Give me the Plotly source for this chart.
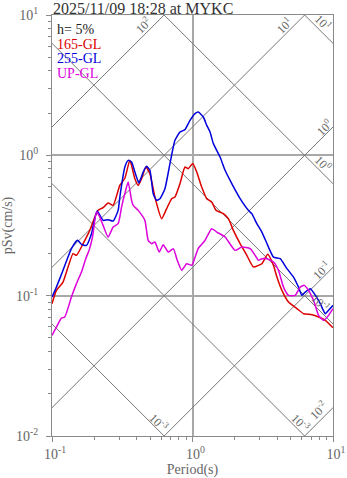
import numpy as np
import plotly.graph_objects as go

TITLE = "2025/11/09 18:28 at MYKC"
DAMPING = "h= 5%"

# Pseudo-velocity response spectra (h = 5 %), period in s, pSv in cm/s
period_165 = [0.10, 0.1075, 0.1198, 0.1412, 0.1493, 0.1664, 0.1857, 0.2017, 0.2129, 0.2311,
              0.2508, 0.2723, 0.304, 0.330, 0.3583, 0.3889, 0.4106, 0.434, 0.4658, 0.4975,
              0.5401, 0.6031, 0.6547, 0.7108, 0.7502, 0.8143, 0.8842, 0.9333, 1.003, 1.072,
              1.163, 1.263, 1.370, 1.472, 1.659, 1.800, 1.954, 2.182, 2.436, 2.715,
              2.948, 3.117, 3.43, 3.771, 3.988, 4.328, 4.824, 5.536, 6.170, 7.083,
              7.894, 8.811, 10.0]
psv_165 = [0.0877, 0.1091, 0.125, 0.1992, 0.1938, 0.2347, 0.292, 0.3633, 0.4055, 0.4239,
           0.4571, 0.4401, 0.611, 0.686, 0.921, 0.682, 0.611, 0.682, 0.825, 0.741,
           0.5045, 0.3538, 0.417, 0.491, 0.5045, 0.628, 0.825, 0.804, 0.873, 0.760,
           0.594, 0.491, 0.4647, 0.4055, 0.384, 0.3538, 0.292, 0.2347, 0.1938, 0.1599,
           0.1644, 0.169, 0.197, 0.1644, 0.1357, 0.1091, 0.090, 0.0808, 0.0744, 0.0732,
           0.0704, 0.0667, 0.0590]

period_255 = [0.10, 0.1075, 0.1198, 0.1375, 0.1518, 0.1621, 0.1759, 0.191, 0.2094, 0.2311,
              0.2508, 0.2723, 0.2957, 0.304, 0.330, 0.3484, 0.3684, 0.3889, 0.4154, 0.4456,
              0.4712, 0.4975, 0.5253, 0.5554, 0.5866, 0.6367, 0.6912, 0.7502, 0.8143, 0.8842,
              0.9598, 1.042, 1.100, 1.194, 1.263, 1.333, 1.408, 1.571, 1.706, 1.904,
              2.182, 2.500, 2.644, 2.871, 3.117, 3.473, 3.771, 4.209, 4.699, 5.236,
              5.683, 6.010, 6.344, 6.889, 7.356, 8.117, 8.811, 9.302, 10.0]
psv_255 = [0.0977, 0.1151, 0.1515, 0.2163, 0.2478, 0.232, 0.2283, 0.2766, 0.4009, 0.3441,
           0.3481, 0.3402, 0.4055, 0.5045, 0.825, 0.921, 0.896, 0.760, 0.635, 0.760,
           0.835, 0.782, 0.533, 0.478, 0.491, 0.579, 0.873, 1.279, 1.466, 1.525,
           1.776, 1.983, 2.035, 1.875, 1.636, 1.466, 1.212, 0.972, 0.782, 0.628,
           0.491, 0.4055, 0.384, 0.326, 0.284, 0.222, 0.1884, 0.1835, 0.1557, 0.1357,
           0.1151, 0.1005, 0.1061, 0.1122, 0.1033, 0.0877, 0.0744, 0.0786, 0.0853]

period_up = [0.10, 0.1075, 0.1167, 0.1232, 0.1375, 0.1493, 0.1621, 0.1739, 0.1836, 0.1942,
             0.2074, 0.2189, 0.2311, 0.2508, 0.2723, 0.2957, 0.3126, 0.330, 0.3484, 0.3684,
             0.3782, 0.4106, 0.4582, 0.4838, 0.5116, 0.5401, 0.5799, 0.6191, 0.6721, 0.7295,
             0.7791, 0.8375, 0.9092, 0.987, 1.013, 1.100, 1.228, 1.370, 1.489, 1.706,
             2.010, 2.243, 2.571, 2.792, 2.948, 3.117, 3.383, 3.771, 4.093, 4.444,
             4.824, 5.384, 5.845, 6.241, 6.699, 7.272, 7.894, 8.570, 9.302, 10.0]
psv_up = [0.0521, 0.0597, 0.0692, 0.0704, 0.0977, 0.1218, 0.1473, 0.1835, 0.2103, 0.2617,
          0.3943, 0.3633, 0.3169, 0.2617, 0.3083, 0.326, 0.428, 0.533, 0.645, 0.478,
          0.4401, 0.4055, 0.3441, 0.2478, 0.2347, 0.241, 0.2045, 0.2309, 0.2045, 0.2163,
          0.1785, 0.1515, 0.169, 0.1644, 0.1727, 0.2174, 0.2478, 0.3003, 0.284, 0.2617,
          0.2103, 0.222, 0.2163, 0.1938, 0.1785, 0.1835, 0.1835, 0.1736, 0.1515, 0.1151,
          0.1005, 0.1005, 0.1151, 0.1184, 0.1091, 0.0926, 0.0724, 0.0667, 0.0724, 0.0808]

series = [
    ("165-GL", period_165, psv_165, "#dd0000"),
    ("255-GL", period_255, psv_255, "#0000dd"),
    ("UP-GL", period_up, psv_up, "#dd00dd"),
]

# Tripartite guide lines: constant pseudo-acceleration (cm/s^2) and displacement (cm)
ACC_LEVELS = [1e-2, 1e-1, 1e0, 1e1, 1e2]
DISP_LEVELS = [1e-3, 1e-2, 1e-1, 1e0, 1e1]

# Guide-line labels: text, log10(T), log10(pSv), text angle
GUIDE_LABELS = [
    ("10<sup>2</sup>", -0.353, 0.927, -45),
    ("10<sup>1</sup>", 0.653, 0.927, -45),
    ("10<sup>1</sup>", 0.931, 0.948, 45),
    ("10<sup>0</sup>", 0.938, 0.200, -45),
    ("10<sup>0</sup>", 0.931, -0.057, 45),
    ("10<sup>-1</sup>", 0.917, -0.820, -45),
    ("10<sup>-1</sup>", 0.909, -1.048, 45),
    ("10<sup>-3</sup>", -0.239, -1.903, 45),
    ("10<sup>-3</sup>", 0.767, -1.903, 45),
    ("10<sup>-2</sup>", 0.895, -1.818, -45),
]

SERIF = "Liberation Serif, Times New Roman, serif"
GRID = "#a8a8a8"
GUIDE = "#777777"
AXIS = "#8a8a8a"
TEXT_GREY = "#666666"

fig = go.Figure()

t_span = np.array([0.1, 10.0])
for a in ACC_LEVELS:
    fig.add_trace(go.Scatter(x=t_span, y=a * t_span / (2 * np.pi), mode="lines",
                             line=dict(color=GUIDE, width=1), hoverinfo="skip",
                             showlegend=False))
for d in DISP_LEVELS:
    fig.add_trace(go.Scatter(x=t_span, y=2 * np.pi * d / t_span, mode="lines",
                             line=dict(color=GUIDE, width=1), hoverinfo="skip",
                             showlegend=False))

for name, t, v, color in series:
    fig.add_trace(go.Scatter(x=t, y=v, mode="lines", name=name,
                             line=dict(color=color, width=1.5, shape="spline", smoothing=0.5),
                             showlegend=False))

annotations = []
for text, lx, ly, ang in GUIDE_LABELS:
    annotations.append(dict(text=text, x=lx, y=ly, xref="x", yref="y", showarrow=False,
                            textangle=ang, font=dict(family=SERIF, size=12, color=TEXT_GREY),
                            xanchor="center", yanchor="middle"))

annotations.append(dict(text=TITLE, x=0, y=1, xref="paper", yref="paper", xanchor="left",
                        yanchor="bottom", showarrow=False, yshift=-3, borderpad=0,
                        font=dict(family=SERIF, size=16, color="#333333")))

legend_rows = [(DAMPING, "#222222")] + [(s[0], s[3]) for s in series]
for i, (text, color) in enumerate(legend_rows):
    annotations.append(dict(text=text, x=0, y=0.9656 - i * 0.0345, xref="paper", yref="paper",
                            xanchor="left", yanchor="middle", xshift=3, showarrow=False,
                            font=dict(family=SERIF, size=14, color=color)))

minor_vals = [k * 10.0 ** e for e in range(-2, 1) for k in range(2, 10)]

fig.update_layout(
    width=347, height=478,
    margin=dict(l=52, r=14, t=15, b=42, autoexpand=False),
    paper_bgcolor="white", plot_bgcolor="white",
    font=dict(family=SERIF, size=14, color=TEXT_GREY),
    annotations=annotations,
    showlegend=False,
)

fig.update_xaxes(
    type="log", range=[-1, 1], automargin=False,
    tickvals=[0.1, 1, 10],
    ticktext=["10<sup>-1</sup>", "10<sup>0</sup>", "10<sup>1</sup>"],
    ticks="outside", ticklen=5, tickcolor=AXIS, tickwidth=1,
    ticklabelshift=3,
    showline=True, linecolor=AXIS, linewidth=1, mirror=True,
    showgrid=True, gridcolor=GRID, gridwidth=1.5,
    zeroline=False,
    minor=dict(tickvals=minor_vals, ticks="outside", ticklen=3, tickcolor=AXIS, showgrid=False),
    tickfont=dict(family=SERIF, size=14, color=TEXT_GREY),
    title=dict(text="Period(s)", standoff=2, font=dict(family=SERIF, size=14, color=TEXT_GREY)),
)
fig.update_yaxes(
    type="log", range=[-2, 1], automargin=False,
    tickvals=[0.01, 0.1, 1, 10],
    ticktext=["10<sup>-2</sup>", "10<sup>-1</sup>", "10<sup>0</sup>", "10<sup>1</sup>"],
    ticks="outside", ticklen=5, tickcolor=AXIS, tickwidth=1,
    ticklabelstandoff=5,
    showline=True, linecolor=AXIS, linewidth=1, mirror=True,
    showgrid=True, gridcolor=GRID, gridwidth=1.5,
    zeroline=False,
    minor=dict(tickvals=minor_vals, ticks="outside", ticklen=3, tickcolor=AXIS, showgrid=False),
    tickfont=dict(family=SERIF, size=14, color=TEXT_GREY),
    title=dict(text="pSv(cm/s)", standoff=2, font=dict(family=SERIF, size=14, color=TEXT_GREY)),
)

fig.write_html("out.html")
